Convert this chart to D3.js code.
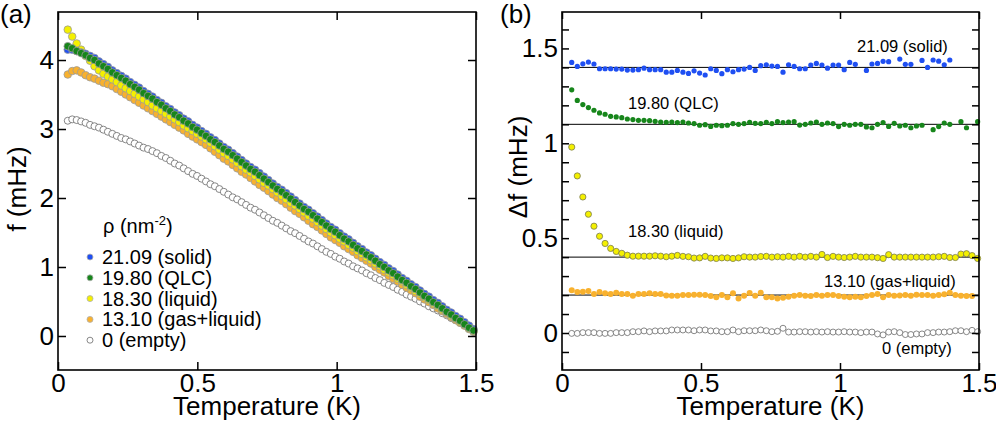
<!DOCTYPE html>
<html>
<head>
<meta charset="utf-8">
<script src="https://cdn.jsdelivr.net/npm/d3@7"></script>
<style>
  body { margin: 0; background: #fff; }
  svg { display: block; }
  text { font-family: "Liberation Sans", Arial, Helvetica, sans-serif; fill: #000; }
</style>
</head>
<body>
<svg id="fig" width="996" height="424"></svg>
<script>
// ---- panel (a): f vs temperature ----
const tempsA = [0.035,0.051,0.067,0.083,0.099,0.115,0.131,0.147,0.163,0.179,0.195,0.211,0.227,0.243,0.259,0.275,0.291,0.307,0.323,0.339,
  0.355,0.371,0.387,0.403,0.419,0.435,0.451,0.467,0.483,0.499,0.515,0.531,0.547,0.563,0.579,0.595,0.611,0.627,0.643,0.659,
  0.675,0.691,0.707,0.723,0.739,0.755,0.771,0.787,0.803,0.819,0.835,0.851,0.867,0.883,0.899,0.915,0.931,0.947,0.963,0.979,
  0.995,1.011,1.027,1.043,1.059,1.075,1.091,1.107,1.123,1.139,1.155,1.171,1.187,1.203,1.219,1.235,1.251,1.267,1.283,1.299,
  1.315,1.331,1.347,1.363,1.379,1.395,1.411,1.427,1.443,1.459,1.475,1.491];

const fSolid = [4.15,4.15,4.13,4.11,4.09,4.06,4.03,3.98,3.94,3.90,3.85,3.81,3.77,3.73,3.68,3.64,3.60,3.55,3.51,3.47,
  3.42,3.38,3.33,3.29,3.24,3.20,3.15,3.11,3.06,3.02,2.97,2.93,2.88,2.84,2.79,2.74,2.70,2.65,2.60,2.55,
  2.50,2.45,2.41,2.36,2.31,2.26,2.21,2.16,2.12,2.07,2.02,1.97,1.92,1.87,1.83,1.78,1.73,1.68,1.63,1.58,
  1.54,1.49,1.44,1.40,1.35,1.30,1.26,1.21,1.17,1.12,1.07,1.03,0.98,0.94,0.89,0.84,0.80,0.75,0.71,0.66,
  0.61,0.57,0.52,0.48,0.43,0.38,0.34,0.29,0.25,0.20,0.15,0.10];

const fQLC = [4.20,4.17,4.13,4.10,4.07,4.03,4.00,3.95,3.91,3.87,3.82,3.78,3.74,3.70,3.65,3.61,3.57,3.52,3.48,3.44,
  3.39,3.35,3.30,3.26,3.21,3.17,3.12,3.08,3.03,2.99,2.94,2.90,2.85,2.81,2.76,2.71,2.67,2.62,2.57,2.52,
  2.47,2.42,2.38,2.33,2.28,2.23,2.18,2.13,2.09,2.04,1.99,1.94,1.89,1.84,1.80,1.75,1.70,1.65,1.60,1.55,
  1.51,1.46,1.41,1.37,1.32,1.27,1.23,1.18,1.14,1.09,1.04,1.00,0.95,0.91,0.86,0.81,0.77,0.72,0.68,0.63,
  0.58,0.54,0.49,0.45,0.40,0.35,0.31,0.26,0.22,0.17,0.12,0.08];

const fLiquid = [4.44,4.34,4.24,4.15,4.06,3.99,3.91,3.85,3.80,3.76,3.72,3.68,3.63,3.59,3.55,3.51,3.47,3.43,3.39,3.34,
  3.30,3.26,3.22,3.18,3.14,3.10,3.05,3.01,2.97,2.93,2.89,2.85,2.80,2.75,2.70,2.65,2.61,2.56,2.51,2.46,
  2.41,2.37,2.32,2.27,2.22,2.18,2.13,2.08,2.03,1.98,1.93,1.89,1.84,1.79,1.74,1.70,1.65,1.60,1.55,1.50,
  1.46,1.41,1.37,1.32,1.28,1.23,1.19,1.14,1.10,1.05,1.01,0.96,0.92,0.88,0.83,0.79,0.74,0.70,0.65,0.61,
  0.56,0.52,0.47,0.43,0.38,0.34,0.29,0.25,0.20,0.16,0.11,0.07];

const fGasLiq = [3.79,3.84,3.85,3.82,3.78,3.75,3.73,3.70,3.67,3.65,3.62,3.58,3.54,3.50,3.46,3.42,3.38,3.34,3.30,3.26,
  3.22,3.18,3.14,3.10,3.06,3.02,2.98,2.93,2.89,2.85,2.81,2.77,2.72,2.67,2.62,2.57,2.53,2.48,2.43,2.38,
  2.34,2.29,2.24,2.19,2.15,2.10,2.05,2.00,1.96,1.91,1.86,1.81,1.77,1.72,1.67,1.62,1.58,1.53,1.48,1.43,
  1.39,1.35,1.30,1.26,1.22,1.17,1.13,1.09,1.05,1.00,0.96,0.92,0.87,0.83,0.79,0.74,0.70,0.66,0.62,0.57,
  0.53,0.49,0.45,0.40,0.36,0.32,0.27,0.23,0.19,0.15,0.10,0.06];

const fEmpty = [3.12,3.14,3.13,3.11,3.09,3.06,3.04,3.02,2.99,2.96,2.93,2.90,2.87,2.85,2.82,2.79,2.76,2.73,2.71,2.68,
  2.65,2.61,2.58,2.54,2.50,2.47,2.43,2.39,2.35,2.32,2.28,2.24,2.20,2.17,2.13,2.09,2.05,2.01,1.98,1.94,
  1.90,1.86,1.83,1.79,1.75,1.71,1.67,1.64,1.60,1.56,1.52,1.49,1.45,1.41,1.37,1.34,1.30,1.26,1.22,1.19,
  1.15,1.12,1.08,1.05,1.01,0.98,0.95,0.91,0.88,0.84,0.81,0.77,0.74,0.71,0.67,0.64,0.60,0.57,0.54,0.50,
  0.47,0.43,0.40,0.37,0.33,0.30,0.26,0.23,0.20,0.16,0.12,0.08];

// ---- panel (b): delta f vs temperature ----
const tempsB = [0.035,0.055,0.075,0.095,0.115,0.135,0.155,0.175,0.195,0.215,0.235,0.255,0.275,0.295,0.315,0.335,0.355,0.375,0.395,0.415,
  0.435,0.455,0.475,0.495,0.515,0.535,0.555,0.575,0.595,0.615,0.635,0.655,0.675,0.695,0.715,0.735,0.755,0.775,0.795,0.815,
  0.835,0.855,0.875,0.895,0.915,0.935,0.955,0.975,0.995,1.015,1.035,1.055,1.075,1.095,1.115,1.135,1.155,1.175,1.195,1.215,
  1.235,1.255,1.275,1.295,1.315,1.335,1.355,1.375,1.395,1.415,1.435,1.455,1.475,1.495];

const dfSolid = [1.426,1.405,1.419,1.428,1.418,1.393,1.393,1.393,1.391,1.391,1.386,1.386,1.388,1.396,1.388,1.388,1.388,1.375,1.375,1.384,
  1.375,1.368,1.382,1.370,1.360,1.393,1.384,1.367,1.388,1.377,1.388,1.391,1.400,1.384,1.409,1.414,1.407,1.405,1.375,1.414,
  1.405,1.393,1.393,1.412,1.421,1.412,1.396,1.412,1.412,1.388,1.426,1.416,null,1.384,1.418,1.421,1.432,1.430,null,1.444,
  1.416,1.416,null,1.437,1.400,1.439,1.433,1.414,1.439,null,null,null,null,null];

const dfQLC = [1.282,1.226,1.204,1.188,1.174,1.160,1.153,1.142,1.139,1.135,1.128,1.125,1.121,1.121,1.119,1.116,1.112,1.111,1.112,1.109,
  1.112,1.107,1.104,1.095,1.098,1.089,1.095,1.093,1.095,1.104,1.100,1.104,1.111,1.105,1.104,1.111,1.104,1.114,1.109,1.112,
  1.114,1.096,1.100,1.107,1.112,1.100,1.107,1.104,1.088,1.100,1.095,1.100,1.100,1.086,1.082,1.100,1.109,1.089,1.105,1.091,
  1.095,1.082,1.091,1.095,null,1.072,1.088,1.107,1.100,null,1.114,1.082,null,1.114];

const dfLiquid = [0.980,0.828,0.717,0.626,0.563,0.510,0.472,0.446,0.430,0.420,0.410,0.405,0.405,0.405,0.405,0.407,0.405,0.402,0.405,0.409,
  0.404,0.402,0.395,0.396,0.404,0.395,0.393,0.396,0.396,0.393,0.396,0.402,0.400,0.400,0.403,0.404,0.400,0.402,0.400,0.404,
  0.400,0.404,0.400,0.404,0.400,0.414,0.398,0.404,0.400,0.398,0.400,0.404,0.400,0.400,0.400,0.397,0.393,0.413,0.400,0.400,
  0.400,0.400,0.400,0.400,0.400,0.400,0.402,0.404,0.398,0.398,0.416,0.418,0.408,0.393];

const dfGasLiq = [0.226,0.216,0.218,0.221,0.205,0.216,0.209,0.205,0.212,0.205,0.205,0.196,0.205,0.205,0.209,0.205,0.205,0.198,0.196,0.196,
  0.200,0.200,0.202,0.202,0.200,0.195,0.188,0.200,0.189,0.209,0.182,0.196,0.211,0.196,0.212,0.188,0.188,0.182,0.186,0.191,
  0.196,0.200,0.196,0.195,0.200,0.196,0.200,0.200,0.195,0.191,0.188,0.191,0.188,0.195,0.200,0.205,0.188,0.200,0.196,0.198,
  0.200,0.196,0.202,0.200,0.200,0.196,0.200,0.204,0.212,0.200,0.196,0.195,0.195,null];

const dfEmpty = [-0.002,-0.002,0.002,0.002,0.002,-0.002,-0.002,-0.002,0.002,0.002,0.002,0.007,0.007,0.011,0.007,0.011,0.011,0.011,0.016,0.016,
  0.016,0.016,0.012,0.016,0.016,0.011,0.011,0.007,0.007,0.016,0.007,0.012,0.012,0.012,0.016,0.012,0.007,0.009,0.025,0.005,
  0.005,0.007,0.007,0.005,0.007,0.005,0.007,0.005,0.005,0.007,0.005,0.005,0.002,0.005,0.005,-0.005,-0.010,0.005,0.007,0.002,
  -0.008,-0.008,-0.005,-0.005,0.002,0.002,0.005,0.005,0.007,0.012,0.012,0.007,0.014,0.007];

const seriesNames = ["21.09 (solid)", "19.80 (QLC)", "18.30 (liquid)", "13.10 (gas+liquid)", "0 (empty)"];
const refLevels = [1.4, 1.1, 0.4, 0.2];
const xTicks = [0, 0.5, 1, 1.5];
const yTicksA = [0, 1, 2, 3, 4];

const fontFam = '"Liberation Sans", Arial, Helvetica, sans-serif';
const styles = [
  { fill: "#1f4ff2", stroke: "#8a8a8a" },
  { fill: "#17861b", stroke: "#8a8a8a" },
  { fill: "#f4f000", stroke: "#808080" },
  { fill: "#f8b12e", stroke: "#c0a070" },
  { fill: "#ffffff", stroke: "#6a6a6a" }
];

const svg = d3.select("#fig");
const fmt = d3.format("~g");

function frame(x, y, yTickVals, tickLen, yFmt) {
  const g = svg.append("g");
  const [l, r] = x.range();
  const [b, t] = y.range();

  const styleAxis = sel => {
    sel.select(".domain").remove();
    sel.selectAll(".tick line").attr("stroke", "#000").attr("stroke-width", 1.5);
    sel.selectAll("text").attr("font-family", fontFam).attr("font-size", 26).attr("fill", "#000");
  };

  g.append("g").attr("transform", `translate(0,${b})`)
    .call(d3.axisBottom(x).tickValues(xTicks).tickSizeInner(-tickLen).tickSizeOuter(0).tickPadding(4).tickFormat(fmt))
    .call(styleAxis);
  g.append("g").attr("transform", `translate(0,${t})`)
    .call(d3.axisTop(x).tickValues(xTicks).tickSizeInner(-tickLen).tickSizeOuter(0).tickFormat(""))
    .call(styleAxis);
  g.append("g").attr("transform", `translate(${l},0)`)
    .call(d3.axisLeft(y).tickValues(yTickVals).tickSizeInner(-tickLen).tickSizeOuter(0).tickPadding(4).tickFormat(yFmt))
    .call(styleAxis);
  g.append("g").attr("transform", `translate(${r},0)`)
    .call(d3.axisRight(y).tickValues(yTickVals).tickSizeInner(-tickLen).tickSizeOuter(0).tickFormat(""))
    .call(styleAxis);

  g.append("rect")
    .attr("x", l).attr("y", t).attr("width", r - l).attr("height", b - t)
    .attr("fill", "none").attr("stroke", "#000").attr("stroke-width", 1.6);

  svg.append("text").attr("x", (l + r) / 2).attr("y", 415)
    .attr("text-anchor", "middle").attr("font-size", 26).text("Temperature (K)");
  return g;
}

// ---------- panel (a) ----------
const xA = d3.scaleLinear().domain([0, 1.5]).range([58, 476]);
const yA = d3.scaleLinear().domain([-0.493, 4.696]).range([370, 12]);

const seriesA = [fSolid, fQLC, fLiquid, fGasLiq, fEmpty];
const drawOrderA = [4, 3, 2, 0, 1];
const gA = svg.append("g");
drawOrderA.forEach(i => {
  const pts = tempsA.map((t, k) => ({ t, v: seriesA[i][k] })).filter(d => d.v != null);
  gA.selectAll(null).data(pts).enter().append("circle")
    .attr("cx", d => xA(d.t)).attr("cy", d => yA(d.v))
    .attr("r", i === 4 ? 3.5 : 3.8)
    .attr("fill", styles[i].fill)
    .attr("stroke", i === 4 ? styles[i].stroke : "#9a9a9a")
    .attr("stroke-width", 0.8);
});
frame(xA, yA, yTicksA, 8, fmt);

svg.append("text").attr("transform", "translate(26,189) rotate(-90)")
  .attr("text-anchor", "middle").attr("font-size", 26).text("f (mHz)");
svg.append("text").attr("x", 0).attr("y", 23).attr("font-size", 26).text("(a)");

// legend
const legTitle = svg.append("text").attr("x", 103).attr("y", 233).attr("font-size", 20);
legTitle.append("tspan").text("\u03c1 (nm");
legTitle.append("tspan").attr("font-size", 13).attr("dy", -8).text("-2");
legTitle.append("tspan").attr("dy", 8).text(")");

const leg = svg.append("g");
seriesNames.forEach((name, i) => {
  const yy = 264 + i * 20.8;
  leg.append("circle").attr("cx", 90).attr("cy", yy - 7).attr("r", 3)
    .attr("fill", styles[i].fill)
    .attr("stroke", i === 4 ? styles[i].stroke : "#b0b0b0").attr("stroke-width", 0.8);
  leg.append("text").attr("x", 102).attr("y", yy).attr("font-size", 20).text(name);
});

// ---------- panel (b) ----------
const xB = d3.scaleLinear().domain([0, 1.5]).range([562, 979]);
const yB = d3.scaleLinear().domain([-0.195, 1.692]).range([370, 12]);

const gB = svg.append("g");
gB.selectAll(".ref").data(refLevels).enter().append("line")
  .attr("x1", xB(0)).attr("x2", xB(1.5))
  .attr("y1", d => yB(d)).attr("y2", d => yB(d))
  .attr("stroke", "#000").attr("stroke-width", 1);

const seriesB = [dfSolid, dfQLC, dfLiquid, dfGasLiq, dfEmpty];
const radiusB = [2.6, 2.6, 3.1, 3.0, 3.0];
seriesB.forEach((vals, i) => {
  const pts = tempsB.map((t, k) => ({ t, v: vals[k] })).filter(d => d.v != null);
  gB.selectAll(null).data(pts).enter().append("circle")
    .attr("cx", d => xB(d.t)).attr("cy", d => yB(d.v))
    .attr("r", radiusB[i])
    .attr("fill", styles[i].fill)
    .attr("stroke", i === 2 ? "#7a7a50" : i === 4 ? styles[i].stroke : "none")
    .attr("stroke-width", 0.8);
});

const halfFmt = d => Math.abs(d * 2 - Math.round(d * 2)) < 1e-9 ? fmt(+d.toFixed(1)) : "";
frame(xB, yB, yB.ticks(20), 7, halfFmt);

svg.append("text").attr("transform", "translate(527,167) rotate(-90)")
  .attr("text-anchor", "middle").attr("font-size", 26).text("\u0394f (mHz)");
svg.append("text").attr("x", 500).attr("y", 23).attr("font-size", 26).text("(b)");

// curve labels
const labelPos = [[857, 52], [628, 109], [628, 237], [824, 287], [882, 354]];
seriesNames.forEach((name, i) => {
  svg.append("text").attr("x", labelPos[i][0]).attr("y", labelPos[i][1])
    .attr("font-size", 16.5).text(name);
});
</script>
</body>
</html>
